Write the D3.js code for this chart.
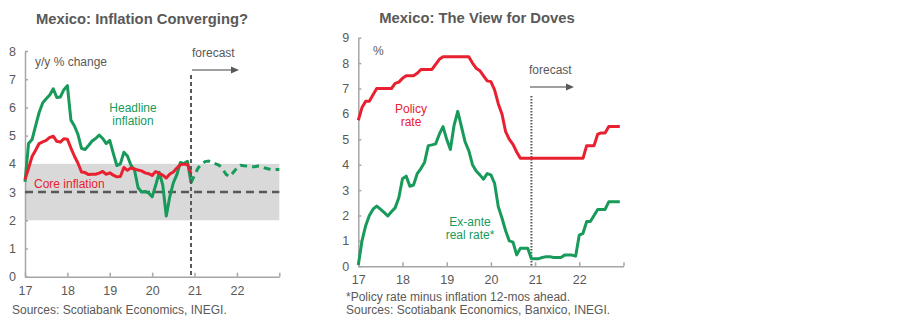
<!DOCTYPE html>
<html>
<head>
	<meta charset="UTF-8"/>
	<title>Mexico: inflation and policy rate</title>
	<style type="text/css">
		body {
		margin: 0;
		background: #fff;
		font-family: 'Liberation Sans', Arial, sans-serif;
		}
		svg {
		display: block;
		}
		text {
		fill: #595959;
		font-size: 12px;
		}
		text.title {
		font-size: 14.8px;
		font-weight: 700;
		}
		.axis path, .axis line {
		stroke: #a6a6a6;
		stroke-width: 1.5;
		}
		.axis text {
		font-size: 12.5px;
		fill: #595959;
		}
		.green { fill: #179a5a; }
		.red { fill: #e8202f; }
	</style>
	<script src="https://d3js.org/d3.v7.min.js"></script>
</head>
<body>
<svg width="900" height="323"></svg>
<script>
	// x tick labels (years) shared by both panels
	const years = [17, 18, 19, 20, 21, 22];
	const inflTicks = [0, 1, 2, 3, 4, 5, 6, 7, 8];
	const rateTicks = [0, 1, 2, 3, 4, 5, 6, 7, 8, 9];

	// left panel, monthly y/y %, first point is Dec-16
	const headline = [3.36, 4.72, 4.86, 5.35, 5.82, 6.16, 6.31, 6.44, 6.66, 6.35, 6.37, 6.63,
		6.77, 5.55, 5.34, 5.04, 4.55, 4.51, 4.65, 4.81, 4.90, 5.02, 4.90, 4.72,
		4.83, 4.37, 3.94, 4.00, 4.41, 4.28, 3.95, 3.78, 3.16, 3.00, 3.02, 2.97,
		2.83, 3.24, 3.70, 3.25, 2.15, 2.84, 3.33, 3.62, 4.05, 4.01, 4.09, 3.33];
	const core = [3.44, 3.84, 4.26, 4.48, 4.72, 4.78, 4.83, 4.94, 4.98, 4.80, 4.77, 4.89,
		4.87, 4.56, 4.27, 4.02, 3.71, 3.69, 3.62, 3.63, 3.63, 3.67, 3.73, 3.63,
		3.68, 3.60, 3.54, 3.55, 3.87, 3.77, 3.85, 3.82, 3.78, 3.75, 3.68, 3.65,
		3.59, 3.73, 3.66, 3.60, 3.50, 3.64, 3.71, 3.85, 3.97, 3.99, 3.98, 3.66];
	// forecast path, starts at the last actual (Nov-20)
	const headlineFcst = [3.33, 3.6, 3.85, 4.0, 4.08, 4.1, 4.05, 4.0, 3.95, 3.8, 3.62, 3.55, 3.7,
		3.85, 3.95, 3.93, 3.92, 3.9, 3.9, 3.92, 3.9, 3.85, 3.82, 3.8, 3.8, 3.8];
	const fcstStart = headline.length - 1;
	const targetBand = [2, 4];
	const target = 3;

	// right panel, monthly %, Jan-17 to Dec-22
	const policyRate = [5.75, 6.25, 6.5, 6.5, 6.75, 7.0, 7.0, 7.0, 7.0, 7.0, 7.2, 7.25,
		7.4, 7.5, 7.5, 7.5, 7.6, 7.75, 7.75, 7.75, 7.75, 7.95, 8.15, 8.25,
		8.25, 8.25, 8.25, 8.25, 8.25, 8.25, 8.25, 8.0, 7.8, 7.7, 7.5, 7.3,
		7.27, 6.95, 6.4, 6.0, 5.3, 5.0, 4.8, 4.5, 4.25, 4.25, 4.25, 4.25,
		4.25, 4.25, 4.25, 4.25, 4.25, 4.25, 4.25, 4.25, 4.25, 4.25, 4.25, 4.25,
		4.25, 4.25, 4.75, 4.75, 4.75, 5.2, 5.25, 5.25, 5.5, 5.5, 5.5, 5.5];
	const realRate = [0.05, 1.0, 1.6, 2.0, 2.25, 2.37, 2.25, 2.12, 1.98, 2.15, 2.3, 2.7,
		3.45, 3.55, 3.15, 3.2, 3.65, 3.85, 4.1, 4.75, 4.78, 4.82, 5.2, 5.5,
		5.0, 4.6, 5.55, 6.1, 5.5, 4.9, 4.55, 4.0, 3.75, 3.6, 3.43, 3.65,
		3.6, 3.27, 2.35, 1.9, 1.4, 1.0, 0.95, 0.45, 0.71, 0.71, 0.71, 0.3,
		0.3, 0.3, 0.35, 0.38, 0.38, 0.35, 0.35, 0.35, 0.44, 0.44, 0.44, 0.4,
		1.23, 1.3, 1.76, 1.76, 2.0, 2.24, 2.24, 2.24, 2.54, 2.54, 2.54, 2.54];
	const forecastAt = 17 + 47 / 12;

	const green = '#179a5a';
	const red = '#e8202f';
	const svg = d3.select('svg');

	const monthly = (start) => (d, i) => 17 + (start + i) / 12;

	function axes(g, x, y, yTicks) {
		g.append('g')
			.attr('class', 'axis')
			.attr('transform', `translate(${x(17)},0)`)
			.call(d3.axisLeft(y).tickValues(yTicks).tickSize(-3).tickSizeOuter(0).tickPadding(9)
				.tickFormat(d3.format('d')));
		g.append('g')
			.attr('class', 'axis')
			.attr('transform', `translate(0,${y(0)})`)
			.call(d3.axisBottom(x).tickValues(years.concat([23])).tickSize(-4).tickSizeOuter(0).tickPadding(9)
				.tickFormat(d => d === 23 ? '' : d));
	}

	function arrow(g, x0, x1, yy) {
		g.append('line')
			.attr('x1', x0).attr('x2', x1 - 5).attr('y1', yy).attr('y2', yy)
			.attr('stroke', '#7f7f7f').attr('stroke-width', 1.5);
		g.append('path')
			.attr('d', `M${x1},${yy}L${x1 - 8},${yy - 3.5}L${x1 - 8},${yy + 3.5}Z`)
			.attr('fill', '#595959');
	}

	// ---------- left: inflation ----------
	{
		const g = svg.append('g');
		const x = d3.scaleLinear().domain([17, 23]).range([25, 279.3]);
		const y = d3.scaleLinear().domain([0, 8]).range([276.7, 51]);

		g.append('rect')
			.attr('x', x(17)).attr('width', x(23) - x(17))
			.attr('y', y(targetBand[1])).attr('height', y(targetBand[0]) - y(targetBand[1]))
			.attr('fill', '#d9d9d9');

		axes(g, x, y, inflTicks);

		g.append('line')
			.attr('x1', x(17)).attr('x2', x(23)).attr('y1', y(target)).attr('y2', y(target))
			.attr('stroke', '#595959').attr('stroke-width', 2.5).attr('stroke-dasharray', '8 5');

		const line = (start) => d3.line().x((d, i) => x(monthly(start)(d, i))).y(d => y(d));

		g.append('path').datum(headline)
			.attr('d', line(0)).attr('fill', 'none')
			.attr('stroke', green).attr('stroke-width', 3).attr('stroke-linejoin', 'round');
		g.append('path').datum(core)
			.attr('d', line(0)).attr('fill', 'none')
			.attr('stroke', red).attr('stroke-width', 3).attr('stroke-linejoin', 'round');
		g.append('path').datum(headlineFcst)
			.attr('d', line(fcstStart)).attr('fill', 'none')
			.attr('stroke', green).attr('stroke-width', 3).attr('stroke-dasharray', '7 5');

		g.append('line')
			.attr('x1', x(forecastAt)).attr('x2', x(forecastAt)).attr('y1', 75).attr('y2', y(0))
			.attr('stroke', '#595959').attr('stroke-width', 2).attr('stroke-dasharray', '4 3');

		g.append('text').attr('class', 'title').attr('x', 142).attr('y', 24)
			.attr('text-anchor', 'middle').text('Mexico: Inflation Converging?');
		g.append('text').attr('x', 35).attr('y', 66).text('y/y  % change');
		g.append('text').attr('x', 192).attr('y', 57).text('forecast');
		arrow(g, 192, 239, 70);
		g.append('text').attr('class', 'green').attr('x', 133).attr('y', 112)
			.attr('text-anchor', 'middle').text('Headline');
		g.append('text').attr('class', 'green').attr('x', 133).attr('y', 125)
			.attr('text-anchor', 'middle').text('inflation');
		g.append('text').attr('class', 'red').attr('x', 34).attr('y', 188).text('Core inflation');
		g.append('text').attr('x', 12).attr('y', 314).text('Sources: Scotiabank Economics, INEGI.');
	}

	// ---------- right: policy rate vs ex-ante real rate ----------
	{
		const g = svg.append('g');
		const x = d3.scaleLinear().domain([17, 23]).range([358.3, 623.5]);
		const y = d3.scaleLinear().domain([0, 9]).range([266.3, 37.7]);

		axes(g, x, y, rateTicks);

		g.append('line')
			.attr('x1', x(forecastAt)).attr('x2', x(forecastAt)).attr('y1', 96).attr('y2', y(0))
			.attr('stroke', '#595959').attr('stroke-width', 2).attr('stroke-dasharray', '1.5 1.5');

		const line = d3.line().x((d, i) => x(monthly(0)(d, i))).y(d => y(d));

		g.append('path').datum(policyRate)
			.attr('d', line).attr('fill', 'none')
			.attr('stroke', red).attr('stroke-width', 3).attr('stroke-linejoin', 'round');
		g.append('path').datum(realRate)
			.attr('d', line).attr('fill', 'none')
			.attr('stroke', green).attr('stroke-width', 3).attr('stroke-linejoin', 'round');

		g.append('text').attr('class', 'title').attr('x', 477).attr('y', 23)
			.attr('text-anchor', 'middle').text('Mexico:  The View for Doves');
		g.append('text').attr('x', 373).attr('y', 55).text('%');
		g.append('text').attr('x', 529).attr('y', 74).text('forecast');
		arrow(g, 530, 574, 87);
		g.append('text').attr('class', 'red').attr('x', 411).attr('y', 113)
			.attr('text-anchor', 'middle').text('Policy');
		g.append('text').attr('class', 'red').attr('x', 411).attr('y', 126)
			.attr('text-anchor', 'middle').text('rate');
		g.append('text').attr('class', 'green').attr('x', 470).attr('y', 226)
			.attr('text-anchor', 'middle').text('Ex-ante');
		g.append('text').attr('class', 'green').attr('x', 470).attr('y', 239)
			.attr('text-anchor', 'middle').text('real rate*');
		g.append('text').attr('x', 346).attr('y', 301).text('*Policy rate minus inflation 12-mos ahead.');
		g.append('text').attr('x', 346).attr('y', 314).text('Sources: Scotiabank Economics, Banxico, INEGI.');
	}
</script>
</body>
</html>
